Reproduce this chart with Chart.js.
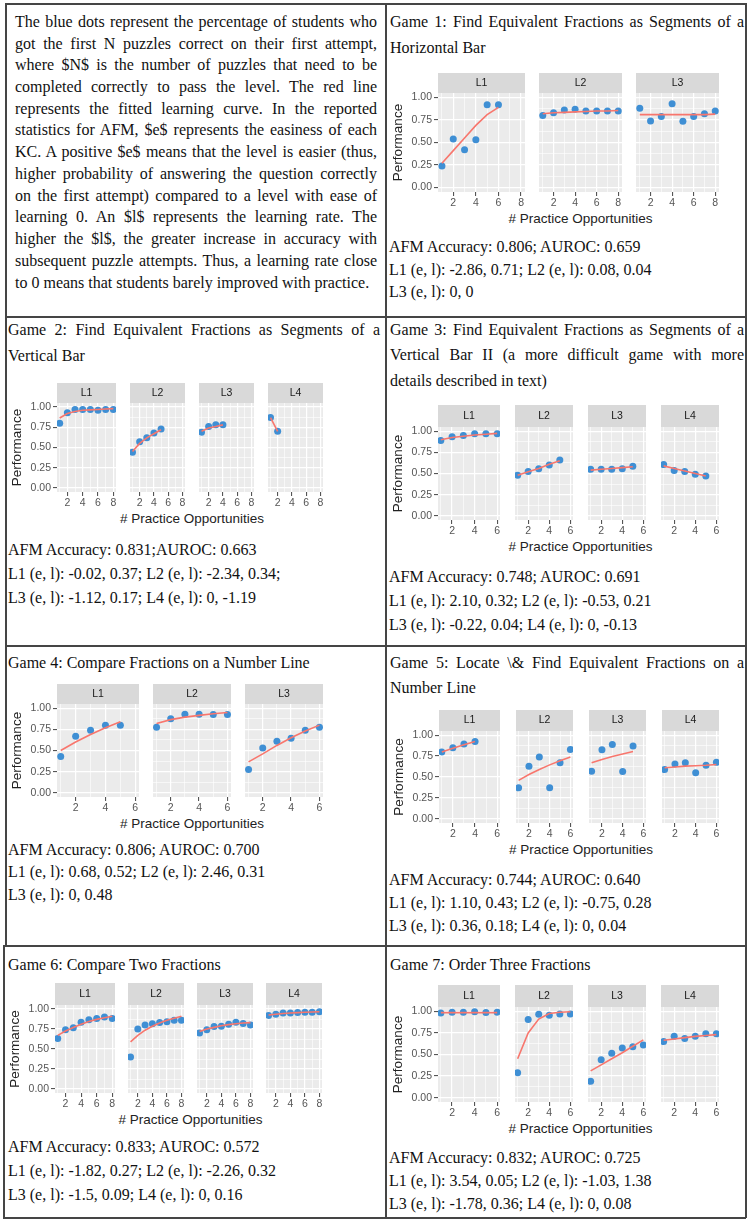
<!DOCTYPE html>
<html>
<head>
<meta charset="utf-8">
<title>Learning curves</title>
<script src="https://cdn.jsdelivr.net/npm/chart.js@4.4.1/dist/chart.umd.min.js"></script>
<style>
  body { margin: 0; background: #fff; }
  #page { position: relative; width: 747px; height: 1220px; overflow: hidden;
          font-family: "Liberation Serif", "Times New Roman", serif; font-size: 16px; color: #111; }
  .ln { position: absolute; height: 20px; line-height: 20px; white-space: nowrap; }
  .j { text-align: justify; text-align-last: justify; white-space: normal; }
  .rule { position: absolute; background: #454545; }
  canvas { position: absolute; }
  .xt { position: absolute; font-family: "Liberation Sans", Arial, sans-serif; font-size: 13.5px;
        color: #222; text-align: center; white-space: nowrap; height: 16px; line-height: 16px; }
</style>
</head>
<body>
<div id="page">
  <!-- table rules -->
  <div class="rule" style="left:5px;top:3px;width:741px;height:1.5px"></div>
  <div class="rule" style="left:5px;top:316px;width:741px;height:1.5px"></div>
  <div class="rule" style="left:5px;top:645px;width:741px;height:1.5px"></div>
  <div class="rule" style="left:3px;top:945px;width:743px;height:1.5px"></div>
  <div class="rule" style="left:3px;top:1217px;width:743px;height:1.5px"></div>
  <div class="rule" style="left:5px;top:3px;width:1.5px;height:943px"></div>
  <div class="rule" style="left:3px;top:945px;width:1.5px;height:274px"></div>
  <div class="rule" style="left:385px;top:3px;width:1.5px;height:1215px"></div>
  <div class="rule" style="left:745px;top:3px;width:1.5px;height:1215px"></div>

  <!-- explanation -->
  <div class="ln j" style="left:15px;top:12px;width:362px">The blue dots represent the percentage of students who</div>
  <div class="ln j" style="left:15px;top:34px;width:362px">got the first N puzzles correct on their first attempt,</div>
  <div class="ln j" style="left:15px;top:55px;width:362px">where $N$ is the number of puzzles that need to be</div>
  <div class="ln j" style="left:15px;top:77px;width:362px">completed correctly to pass the level. The red line</div>
  <div class="ln j" style="left:15px;top:99px;width:362px">represents the fitted learning curve. In the reported</div>
  <div class="ln j" style="left:15px;top:120px;width:362px">statistics for AFM, $e$ represents the easiness of each</div>
  <div class="ln j" style="left:15px;top:142px;width:362px">KC. A positive $e$ means that the level is easier (thus,</div>
  <div class="ln j" style="left:15px;top:164px;width:362px">higher probability of answering the question correctly</div>
  <div class="ln j" style="left:15px;top:186px;width:362px">on the first attempt) compared to a level with ease of</div>
  <div class="ln j" style="left:15px;top:207px;width:362px">learning 0. An $l$ represents the learning rate. The</div>
  <div class="ln j" style="left:15px;top:229px;width:362px">higher the $l$, the greater increase in accuracy with</div>
  <div class="ln j" style="left:15px;top:251px;width:362px">subsequent puzzle attempts. Thus, a learning rate close</div>
  <div class="ln" style="left:15px;top:273px">to 0 means that students barely improved with practice.</div>

  <!-- game 1 -->
  <div class="ln j" style="left:390px;top:12px;width:354px">Game 1: Find Equivalent Fractions as Segments of a</div>
  <div class="ln" style="left:390px;top:38px">Horizontal Bar</div>
  <div class="ln" style="left:389px;top:237px">AFM Accuracy: 0.806; AUROC: 0.659</div>
  <div class="ln" style="left:389px;top:260px">L1 (e, l): -2.86, 0.71; L2 (e, l): 0.08, 0.04</div>
  <div class="ln" style="left:389px;top:282px">L3 (e, l): 0, 0</div>

  <!-- game 2 -->
  <div class="ln j" style="left:8px;top:320px;width:372px">Game 2: Find Equivalent Fractions as Segments of a</div>
  <div class="ln" style="left:8px;top:346px">Vertical Bar</div>
  <div class="ln" style="left:8px;top:540px">AFM Accuracy: 0.831;AUROC: 0.663</div>
  <div class="ln" style="left:8px;top:564px">L1 (e, l): -0.02, 0.37; L2 (e, l): -2.34, 0.34;</div>
  <div class="ln" style="left:8px;top:588px">L3 (e, l): -1.12, 0.17; L4 (e, l): 0, -1.19</div>

  <!-- game 3 -->
  <div class="ln j" style="left:390px;top:320px;width:354px">Game 3: Find Equivalent Fractions as Segments of a</div>
  <div class="ln j" style="left:390px;top:345px;width:354px">Vertical Bar II (a more difficult game with more</div>
  <div class="ln" style="left:390px;top:371px">details described in text)</div>
  <div class="ln" style="left:389px;top:567px">AFM Accuracy: 0.748; AUROC: 0.691</div>
  <div class="ln" style="left:389px;top:591px">L1 (e, l): 2.10, 0.32; L2 (e, l): -0.53, 0.21</div>
  <div class="ln" style="left:389px;top:615px">L3 (e, l): -0.22, 0.04; L4 (e, l): 0, -0.13</div>

  <!-- game 4 -->
  <div class="ln" style="left:8px;top:653px">Game 4: Compare Fractions on a Number Line</div>
  <div class="ln" style="left:8px;top:840px">AFM Accuracy: 0.806; AUROC: 0.700</div>
  <div class="ln" style="left:8px;top:862px">L1 (e, l): 0.68, 0.52; L2 (e, l): 2.46, 0.31</div>
  <div class="ln" style="left:8px;top:885px">L3 (e, l): 0, 0.48</div>

  <!-- game 5 -->
  <div class="ln j" style="left:390px;top:653px;width:354px">Game 5: Locate \&amp; Find Equivalent Fractions on a</div>
  <div class="ln" style="left:390px;top:678px">Number Line</div>
  <div class="ln" style="left:389px;top:870px">AFM Accuracy: 0.744; AUROC: 0.640</div>
  <div class="ln" style="left:389px;top:893px">L1 (e, l): 1.10, 0.43; L2 (e, l): -0.75, 0.28</div>
  <div class="ln" style="left:389px;top:916px">L3 (e, l): 0.36, 0.18; L4 (e, l): 0, 0.04</div>

  <!-- game 6 -->
  <div class="ln" style="left:8px;top:955px">Game 6: Compare Two Fractions</div>
  <div class="ln" style="left:8px;top:1137px">AFM Accuracy: 0.833; AUROC: 0.572</div>
  <div class="ln" style="left:8px;top:1161px">L1 (e, l): -1.82, 0.27; L2 (e, l): -2.26, 0.32</div>
  <div class="ln" style="left:8px;top:1185px">L3 (e, l): -1.5, 0.09; L4 (e, l): 0, 0.16</div>

  <!-- game 7 -->
  <div class="ln" style="left:390px;top:955px">Game 7: Order Three Fractions</div>
  <div class="ln" style="left:389px;top:1148px">AFM Accuracy: 0.832; AUROC: 0.725</div>
  <div class="ln" style="left:389px;top:1171px">L1 (e, l): 3.54, 0.05; L2 (e, l): -1.03, 1.38</div>
  <div class="ln" style="left:389px;top:1194px">L3 (e, l): -1.78, 0.36; L4 (e, l): 0, 0.08</div>
</div>

<script>
// shared axis values
const opportunities = [1, 2, 3, 4, 5, 6, 7, 8];
const yTickLabels = [0, 0.25, 0.5, 0.75, 1];
const yMinorTicks = [0.125, 0.375, 0.625, 0.875];
const xTicks8 = [2, 4, 6, 8];
const xTicks6 = [2, 4, 6];
const levels3 = ['L1', 'L2', 'L3'];
const levels4 = ['L1', 'L2', 'L3', 'L4'];

// observed performance (blue dots) and fitted curve (red line), one row per level
const g1Obs = [
  [0.24, 0.54, 0.42, 0.53, 0.92, 0.92],
  [0.80, 0.83, 0.86, 0.87, 0.85, 0.85, 0.85, 0.85],
  [0.88, 0.74, 0.79, 0.93, 0.735, 0.79, 0.82, 0.85]
];
const g1Fit = [
  [0.27, 0.41, 0.55, 0.69, 0.81, 0.89],
  [0.82, 0.83, 0.835, 0.84, 0.845, 0.85, 0.85, 0.855],
  [0.81, 0.81, 0.81, 0.81, 0.81, 0.81, 0.81, 0.815]
];

const g2Obs = [
  [0.80, 0.93, 0.97, 0.97, 0.97, 0.96, 0.97, 0.97],
  [0.44, 0.57, 0.62, 0.68, 0.73],
  [0.69, 0.76, 0.78, 0.78],
  [0.87, 0.70]
];
const g2Fit = [
  [0.865, 0.92, 0.945, 0.96, 0.965, 0.97, 0.975, 0.98],
  [0.45, 0.55, 0.62, 0.67, 0.72],
  [0.70, 0.74, 0.76, 0.78],
  [0.87, 0.70]
];

const g3Obs = [
  [0.89, 0.935, 0.95, 0.97, 0.97, 0.97],
  [0.48, 0.525, 0.555, 0.60, 0.66],
  [0.55, 0.55, 0.55, 0.555, 0.585],
  [0.605, 0.535, 0.525, 0.49, 0.47]
];
const g3Fit = [
  [0.90, 0.925, 0.94, 0.955, 0.965, 0.975],
  [0.48, 0.52, 0.56, 0.61, 0.65],
  [0.54, 0.55, 0.56, 0.57, 0.58],
  [0.59, 0.56, 0.53, 0.50, 0.47]
];

const g4Obs = [
  [0.43, 0.67, 0.74, 0.80, 0.80],
  [0.775, 0.875, 0.93, 0.93, 0.925, 0.925],
  [0.275, 0.53, 0.61, 0.645, 0.74, 0.775]
];
const g4Fit = [
  [0.50, 0.60, 0.69, 0.77, 0.84],
  [0.82, 0.865, 0.895, 0.915, 0.935, 0.95],
  [0.365, 0.46, 0.56, 0.65, 0.73, 0.80]
];

const g5Obs = [
  [0.80, 0.85, 0.895, 0.925],
  [0.37, 0.63, 0.74, 0.37, 0.67, 0.83],
  [0.57, 0.825, 0.89, 0.565, 0.87],
  [0.59, 0.655, 0.67, 0.55, 0.64, 0.675]
];
const g5Fit = [
  [0.80, 0.845, 0.885, 0.925],
  [0.46, 0.53, 0.59, 0.645, 0.695, 0.74],
  [0.67, 0.71, 0.745, 0.775, 0.805],
  [0.61, 0.62, 0.63, 0.635, 0.64, 0.65]
];

const g6Obs = [
  [0.63, 0.74, 0.765, 0.835, 0.865, 0.88, 0.90, 0.88],
  [0.40, 0.75, 0.80, 0.815, 0.83, 0.84, 0.86, 0.86],
  [0.70, 0.74, 0.78, 0.785, 0.81, 0.835, 0.82, 0.80],
  [0.92, 0.935, 0.95, 0.95, 0.955, 0.96, 0.96, 0.965]
];
const g6Fit = [
  [0.67, 0.725, 0.77, 0.81, 0.845, 0.87, 0.89, 0.91],
  [0.59, 0.67, 0.735, 0.785, 0.825, 0.86, 0.885, 0.91],
  [0.72, 0.75, 0.77, 0.79, 0.805, 0.815, 0.825, 0.83],
  [0.925, 0.935, 0.943, 0.95, 0.955, 0.96, 0.963, 0.966]
];

const g7Obs = [
  [0.98, 0.99, 0.99, 0.995, 0.985, 0.99],
  [0.29, 0.905, 0.965, 0.955, 0.97, 0.97],
  [0.19, 0.44, 0.515, 0.575, 0.59, 0.61],
  [0.65, 0.71, 0.685, 0.71, 0.74, 0.74]
];
const g7Fit = [
  [0.985, 0.985, 0.985, 0.985, 0.985, 0.985],
  [0.45, 0.75, 0.91, 0.975, 0.99, 0.995],
  [0.31, 0.38, 0.45, 0.52, 0.595, 0.67],
  [0.665, 0.68, 0.695, 0.71, 0.72, 0.73]
];

const SANS = "'Liberation Sans', Arial, sans-serif";
const Y_AXIS_W = 48;
const X_AXIS_H = 18;

// grey panel + grey facet strip, like ggplot
const panelBg = {
  id: 'panelBg',
  beforeDraw(chart) {
    const { ctx, chartArea: a, titleBlock: t } = chart;
    ctx.save();
    ctx.fillStyle = '#EBEBEB';
    ctx.fillRect(a.left, a.top, a.right - a.left, a.bottom - a.top);
    if (t) {
      ctx.fillStyle = '#D9D9D9';
      ctx.fillRect(a.left, t.top, a.right - a.left, t.height);
    }
    ctx.restore();
  }
};

const games = [
  { obs: g1Obs, fit: g1Fit, levels: levels3, xTicks: xTicks8, left: 438, panelW: 91, pitch: 97, top: 73,  stripH: 20, panelH: 99 },
  { obs: g2Obs, fit: g2Fit, levels: levels4, xTicks: xTicks8, left: 57,  panelW: 63, pitch: 69, top: 383, stripH: 20, panelH: 89 },
  { obs: g3Obs, fit: g3Fit, levels: levels4, xTicks: xTicks6, left: 438, panelW: 66, pitch: 73, top: 405, stripH: 22, panelH: 93 },
  { obs: g4Obs, fit: g4Fit, levels: levels3, xTicks: xTicks6, left: 57,  panelW: 86, pitch: 92, top: 684, stripH: 20, panelH: 93 },
  { obs: g5Obs, fit: g5Fit, levels: levels4, xTicks: xTicks6, left: 439, panelW: 65, pitch: 73, top: 710, stripH: 21, panelH: 92 },
  { obs: g6Obs, fit: g6Fit, levels: levels4, xTicks: xTicks8, left: 55,  panelW: 64, pitch: 69, top: 983, stripH: 22, panelH: 88 },
  { obs: g7Obs, fit: g7Fit, levels: levels4, xTicks: xTicks6, left: 438, panelW: 66, pitch: 73, top: 985, stripH: 22, panelH: 95 }
];

const page = document.getElementById('page');

function drawGame(g) {
  const xMax = g.xTicks[g.xTicks.length - 1];
  const xPad = 0.05 * (xMax - 1);
  const xAll = opportunities.slice(0, xMax);
  const yAll = yTickLabels.concat(yMinorTicks).sort((a, b) => a - b);
  const isMajorX = v => g.xTicks.includes(v);
  const isMajorY = v => yTickLabels.includes(v);

  g.levels.forEach((lv, i) => {
    const first = i === 0;
    const yW = first ? Y_AXIS_W : 0;
    const cv = document.createElement('canvas');
    cv.width = g.panelW + yW;
    cv.height = g.stripH + g.panelH + X_AXIS_H;
    cv.style.left = (g.left + i * g.pitch - yW) + 'px';
    cv.style.top = g.top + 'px';
    page.appendChild(cv);

    const obsPts = g.obs[i].map((v, k) => ({ x: opportunities[k], y: v }));
    const fitPts = g.fit[i].map((v, k) => ({ x: opportunities[k], y: v }));
    const stripPad = (g.stripH - 12.6) / 2;

    new Chart(cv, {
      type: 'scatter',
      data: {
        datasets: [
          { data: fitPts, showLine: true, borderColor: '#F8766D', borderWidth: 1.6,
            pointRadius: 0, fill: false, tension: 0 },
          { data: obsPts, backgroundColor: '#3F8FD4', borderWidth: 0, pointRadius: 3.5 }
        ]
      },
      options: {
        responsive: false,
        animation: false,
        events: [],
        layout: { padding: 0 },
        plugins: {
          legend: { display: false },
          tooltip: { enabled: false },
          title: {
            display: true, text: lv, fullSize: false, color: '#1A1A1A',
            font: { family: SANS, size: 10.5, weight: 'normal', lineHeight: 1.2 },
            padding: { top: stripPad, bottom: stripPad }
          }
        },
        scales: {
          x: {
            type: 'linear', min: 1 - xPad, max: xMax + xPad,
            afterBuildTicks: s => { s.ticks = xAll.map(v => ({ value: v })); },
            afterFit: s => { s.height = X_AXIS_H; s.paddingLeft = 0; s.paddingRight = 0; },
            border: { display: false },
            grid: {
              color: '#FFFFFF',
              lineWidth: c => (c.tick && isMajorX(c.tick.value)) ? 1.2 : 0.6,
              tickColor: c => (c.tick && isMajorX(c.tick.value)) ? '#444' : 'rgba(0,0,0,0)',
              tickLength: 4, tickWidth: 1
            },
            ticks: {
              autoSkip: false, maxRotation: 0, padding: 1, color: '#555',
              font: { family: SANS, size: 10.5 },
              callback: v => isMajorX(v) ? String(v) : ''
            }
          },
          y: {
            min: -0.05, max: 1.05,
            afterBuildTicks: s => { s.ticks = yAll.map(v => ({ value: v })); },
            afterFit: s => { s.width = yW; s.paddingTop = 0; s.paddingBottom = 0; },
            border: { display: false },
            title: {
              display: first, text: 'Performance', color: '#222',
              font: { family: SANS, size: 13.5 }, padding: 0
            },
            grid: {
              color: '#FFFFFF',
              lineWidth: c => (c.tick && isMajorY(c.tick.value)) ? 1.2 : 0.6,
              drawTicks: first,
              tickColor: c => (c.tick && isMajorY(c.tick.value)) ? '#444' : 'rgba(0,0,0,0)',
              tickLength: 4, tickWidth: 1
            },
            ticks: {
              display: first, padding: 2, color: '#555',
              font: { family: SANS, size: 10.5 },
              callback: v => isMajorY(v) ? v.toFixed(2) : ''
            }
          }
        }
      },
      plugins: [panelBg]
    });
  });

  // shared x axis title under the facets
  const span = (g.levels.length - 1) * g.pitch + g.panelW;
  const xt = document.createElement('div');
  xt.className = 'xt';
  xt.textContent = '# Practice Opportunities';
  xt.style.left = g.left + 'px';
  xt.style.width = span + 'px';
  xt.style.top = (g.top + g.stripH + g.panelH + 19) + 'px';
  page.appendChild(xt);
}

games.forEach(drawGame);
</script>
</body>
</html>
